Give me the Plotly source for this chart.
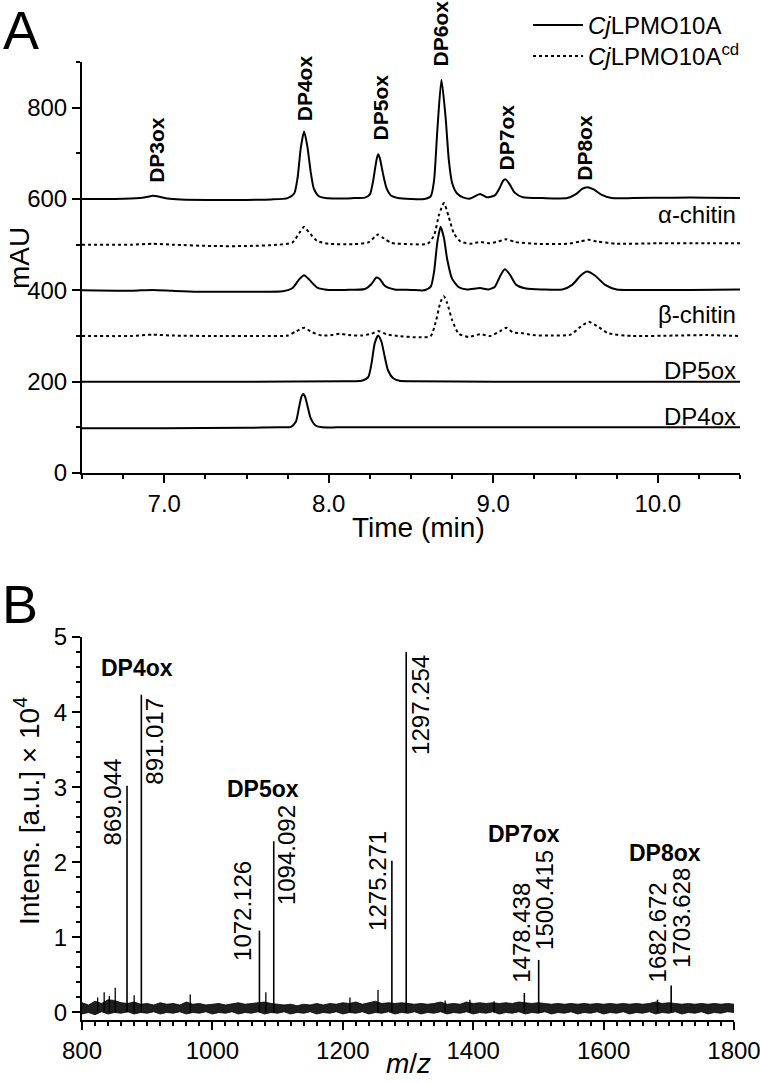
import plotly.graph_objects as go

# ---------------- Panel A: HPAEC chromatograms (mAU vs time) ----------------
t_lpmo_a = [6.50, 6.70, 6.85, 6.90, 6.93, 6.97, 7.02, 7.10, 7.30, 7.50, 7.65, 7.75, 7.79, 7.81, 7.83, 7.85, 7.87, 7.89, 7.91, 7.94,
            7.98, 8.05, 8.15, 8.22, 8.25, 8.27, 8.29, 8.30, 8.31, 8.33, 8.35, 8.38, 8.42, 8.50, 8.58, 8.62, 8.64, 8.66, 8.685, 8.71,
            8.73, 8.75, 8.78, 8.82, 8.86, 8.92, 8.96, 9.01, 9.04, 9.06, 9.075, 9.10, 9.13, 9.18, 9.30, 9.45, 9.50, 9.54, 9.57, 9.61,
            9.66, 9.72, 9.85, 10.1, 10.3, 10.5]
v_lpmo_a = [600, 600, 602, 605, 607, 605, 601, 599, 598, 598, 599, 602, 612, 645, 712, 748, 715, 660, 622, 606,
            602, 601, 602, 603, 610, 640, 685, 698, 690, 655, 625, 607, 602, 600, 600, 606, 640, 750, 861, 780,
            685, 635, 612, 603, 601, 611, 604, 608, 625, 640, 643, 632, 614, 604, 602, 602, 610, 622, 626, 621,
            609, 602, 602, 603, 603, 602]

t_cd_a = [6.50, 6.80, 6.93, 7.05, 7.30, 7.50, 7.70, 7.78, 7.82, 7.85, 7.88, 7.93, 8.00, 8.15, 8.24, 8.28, 8.30, 8.33, 8.38, 8.50,
          8.60, 8.64, 8.67, 8.70, 8.73, 8.76, 8.80, 8.86, 8.92, 8.98, 9.03, 9.08, 9.13, 9.25, 9.45, 9.53, 9.58, 9.63, 9.75, 10.0,
          10.3, 10.5]
v_cd_a = [500, 500, 502, 500, 497, 497, 500, 505, 525, 539, 527, 508, 502, 501, 505, 517, 522, 515, 504, 501,
          502, 520, 565, 591, 560, 525, 507, 502, 506, 503, 507, 512, 506, 502, 502, 507, 511, 507, 502, 503,
          503, 503]

t_lpmo_b = [6.50, 6.80, 6.93, 7.05, 7.20, 7.50, 7.72, 7.78, 7.82, 7.85, 7.88, 7.93, 8.00, 8.10, 8.22, 8.26, 8.29, 8.31, 8.34, 8.40,
            8.50, 8.58, 8.62, 8.64, 8.66, 8.68, 8.70, 8.72, 8.75, 8.79, 8.84, 8.92, 8.97, 9.01, 9.04, 9.07, 9.10, 9.14, 9.20, 9.30,
            9.42, 9.48, 9.53, 9.57, 9.62, 9.68, 9.75, 9.90, 10.2, 10.5]
v_lpmo_b = [400, 399, 401, 399, 397, 397, 398, 405, 424, 433, 424, 406, 401, 401, 403, 414, 428, 425, 410, 402,
            401, 400, 408, 440, 505, 539, 515, 468, 425, 407, 402, 405, 402, 408, 430, 446, 435, 412, 404, 402,
            402, 412, 432, 441, 432, 412, 402, 401, 401, 402]

t_cd_b = [6.50, 6.80, 6.93, 7.05, 7.30, 7.60, 7.75, 7.80, 7.85, 7.90, 7.96, 8.02, 8.07, 8.12, 8.20, 8.26, 8.30, 8.35, 8.42, 8.55,
          8.62, 8.65, 8.68, 8.70, 8.72, 8.75, 8.79, 8.85, 8.92, 8.98, 9.04, 9.08, 9.12, 9.18, 9.24, 9.35, 9.47, 9.53, 9.58, 9.63,
          9.70, 9.85, 10.1, 10.3, 10.5]
v_cd_b = [300, 300, 303, 301, 300, 300, 301, 310, 318, 308, 301, 302, 305, 302, 301, 305, 311, 304, 300, 297,
          300, 330, 375, 387, 372, 335, 305, 298, 304, 300, 310, 318, 308, 306, 302, 301, 303, 320, 331, 322,
          306, 300, 301, 302, 300]

t_std5 = [6.50, 7.50, 8.10, 8.20, 8.24, 8.26, 8.28, 8.30, 8.32, 8.34, 8.36, 8.39, 8.43, 8.50, 9.00, 10.5]
v_std5 = [200, 200, 201, 202, 210, 240, 285, 301, 288, 255, 225, 208, 202, 201, 200, 200]

t_std4 = [6.50, 7.00, 7.50, 7.70, 7.77, 7.80, 7.82, 7.835, 7.845, 7.855, 7.87, 7.89, 7.92, 7.96, 8.05, 8.50, 9.50, 10.5]
v_std4 = [98, 98, 99, 100, 101, 112, 145, 168, 173, 168, 148, 120, 104, 100, 100, 100, 100, 100]

series_names = ["<i>Cj</i>LPMO10A", "<i>Cj</i>LPMO10A<sup>cd</sup>"]

trace_labels = ["α-chitin", "β-chitin", "DP5ox", "DP4ox"]
trace_label_y = [565, 346, 225, 123]

peakA_labels = ["DP3ox", "DP4ox", "DP5ox", "DP6ox", "DP7ox", "DP8ox"]
peakA_t = [6.956, 7.85, 8.315, 8.68, 9.08, 9.55]
peakA_bottom = [631, 766, 723, 885, 659, 635]

# ---------------- Panel B: MALDI-TOF spectrum ----------------
peak_mz = [869.044, 891.017, 1072.126, 1094.092, 1275.271, 1297.254, 1478.438, 1500.415, 1682.672, 1703.628]
peak_int = [3.02, 4.23, 1.09, 2.28, 2.02, 4.80, 0.26, 0.70, 0.17, 0.36]
peak_lab_x = [847, 912, 1047, 1114, 1254, 1318, 1475, 1509, 1683, 1719]
peak_lab_bottom = [2.20, 3.00, 0.66, 1.40, 1.06, 3.40, 0.37, 0.81, 0.37, 0.57]

minor_mz = [824, 834, 842, 851, 880, 966, 1082, 1211, 1254, 1357, 1395, 1432]
minor_int = [0.20, 0.27, 0.22, 0.33, 0.23, 0.24, 0.27, 0.20, 0.30, 0.16, 0.17, 0.15]

noise_mz = list(range(800, 1801, 10))
noise_hi = [0.13, 0.10, 0.15, 0.12, 0.17, 0.16, 0.13, 0.12, 0.14, 0.11,
            0.12, 0.10, 0.13, 0.11, 0.12, 0.10, 0.14, 0.11, 0.12, 0.10,
            0.11, 0.12, 0.10, 0.12, 0.13, 0.11, 0.12, 0.13, 0.14, 0.12,
            0.11, 0.10, 0.11, 0.09, 0.11, 0.10, 0.12, 0.10, 0.12, 0.11,
            0.13, 0.12, 0.14, 0.11, 0.13, 0.15, 0.12, 0.13, 0.12, 0.13,
            0.12, 0.11, 0.12, 0.11, 0.12, 0.14, 0.11, 0.12, 0.11, 0.14,
            0.12, 0.13, 0.12, 0.13, 0.12, 0.13, 0.12, 0.14, 0.13, 0.12,
            0.13, 0.12, 0.11, 0.12, 0.11, 0.12, 0.11, 0.12, 0.11, 0.12,
            0.11, 0.12, 0.11, 0.12, 0.11, 0.12, 0.11, 0.12, 0.14, 0.12,
            0.13, 0.12, 0.11, 0.12, 0.11, 0.12, 0.11, 0.12, 0.11, 0.12, 0.11]
noise_lo = [-0.02, 0.00, -0.03, 0.01, -0.02, 0.00, -0.01, 0.01, -0.02, 0.00,
            -0.01, 0.01, -0.02, 0.00, -0.01, 0.01, -0.02, 0.00, -0.01, 0.01,
            -0.02, 0.00, -0.01, 0.01, -0.02, 0.00, -0.01, 0.01, -0.02, 0.00,
            -0.01, 0.01, -0.02, 0.00, -0.01, 0.01, -0.02, 0.00, -0.01, 0.01,
            -0.02, 0.00, -0.01, 0.01, -0.02, 0.00, -0.01, 0.01, -0.02, 0.00,
            -0.01, 0.01, -0.02, 0.00, -0.01, 0.01, -0.02, 0.00, -0.01, 0.01,
            -0.02, 0.00, -0.01, 0.01, -0.02, 0.00, -0.01, 0.01, -0.02, 0.00,
            -0.01, 0.01, -0.02, 0.00, -0.01, 0.01, -0.02, 0.00, -0.01, 0.01,
            -0.02, 0.00, -0.01, 0.01, -0.02, 0.00, -0.01, 0.01, -0.02, 0.00,
            -0.01, 0.01, -0.02, 0.00, -0.01, 0.01, -0.02, 0.00, -0.01, 0.01, 0.00]

peakB_labels = ["DP4ox", "DP5ox", "DP6ox", "DP7ox", "DP8ox"]
peakB_x = [885, 1078, 1300, 1478, 1694]
peakB_y = [4.59, 2.98, 5.03, 2.38, 2.13]

FONT = "Liberation Sans, Arial, sans-serif"
W, H = 760, 1084

fig = go.Figure()

def chrom(t, v, dash, name=None, show=False, legend="legend"):
    fig.add_trace(go.Scatter(
        x=t, y=v, mode="lines", xaxis="x", yaxis="y",
        line=dict(color="black", width=2, dash=dash, shape="spline", smoothing=0.6),
        name=name if name else "", showlegend=show, legend=legend, hoverinfo="skip"))

chrom(t_lpmo_a, v_lpmo_a, "solid", series_names[0], True, "legend")
chrom(t_cd_a, v_cd_a, "dot", series_names[1], True, "legend2")
chrom(t_lpmo_b, v_lpmo_b, "solid")
chrom(t_cd_b, v_cd_b, "dot")
chrom(t_std5, v_std5, "solid")
chrom(t_std4, v_std4, "solid")

# noise band
fig.add_trace(go.Scatter(x=noise_mz, y=noise_lo, mode="lines", xaxis="x2", yaxis="y2",
                         line=dict(color="black", width=0.8), showlegend=False, hoverinfo="skip"))
fig.add_trace(go.Scatter(x=noise_mz, y=noise_hi, mode="lines", xaxis="x2", yaxis="y2",
                         fill="tonexty", fillcolor="#1e1e1e",
                         line=dict(color="black", width=0.8), showlegend=False, hoverinfo="skip"))

def sticks(mz, inten, width):
    xs, ys = [], []
    for m, h in zip(mz, inten):
        xs += [m, m, None]
        ys += [0, h, None]
    fig.add_trace(go.Scatter(x=xs, y=ys, mode="lines", xaxis="x2", yaxis="y2",
                             line=dict(color="black", width=width), showlegend=False, hoverinfo="skip"))

sticks(minor_mz, minor_int, 1.3)
sticks(peak_mz, peak_int, 1.6)

ann = []
# panel letters
ann.append(dict(text="A", x=21 / W, y=1 - 30 / H, xref="paper", yref="paper", showarrow=False,
                font=dict(family=FONT, size=54, color="black"), xanchor="center", yanchor="middle"))
ann.append(dict(text="B", x=20 / W, y=1 - 604 / H, xref="paper", yref="paper", showarrow=False,
                font=dict(family=FONT, size=54, color="black"), xanchor="center", yanchor="middle"))
# axis titles
ann.append(dict(text="mAU", x=19 / W, y=1 - 258 / H, xref="paper", yref="paper", showarrow=False, textangle=-90,
                font=dict(family=FONT, size=28, color="black"), xanchor="center", yanchor="middle"))
ann.append(dict(text="Time (min)", x=418 / W, y=1 - 527 / H, xref="paper", yref="paper", showarrow=False,
                font=dict(family=FONT, size=28, color="black"), xanchor="center", yanchor="middle"))
ann.append(dict(text="Intens. [a.u.] × 10<sup>4</sup>", x=27 / W, y=1 - 811 / H, xref="paper", yref="paper",
                showarrow=False, textangle=-90,
                font=dict(family=FONT, size=28, color="black"), xanchor="center", yanchor="middle"))
ann.append(dict(text="<i>m</i>/<i>z</i>", x=408 / W, y=1 - 1063 / H, xref="paper", yref="paper", showarrow=False,
                font=dict(family=FONT, size=28, color="black"), xanchor="center", yanchor="middle"))
# trace labels at right
for lab, yv in zip(trace_labels, trace_label_y):
    ann.append(dict(text=lab, x=10.49, y=yv, xref="x", yref="y", showarrow=False,
                    font=dict(family=FONT, size=24, color="black"), xanchor="right", yanchor="middle"))
# peak labels panel A
for lab, tv, yb in zip(peakA_labels, peakA_t, peakA_bottom):
    ann.append(dict(text="<b>%s</b>" % lab, x=tv, y=yb, xref="x", yref="y", showarrow=False, textangle=-90,
                    font=dict(family=FONT, size=21, color="black"), xanchor="center", yanchor="bottom"))
# peak labels panel B
for mz, xl, yb in zip(peak_mz, peak_lab_x, peak_lab_bottom):
    ann.append(dict(text="%.3f" % mz, x=xl, y=yb, xref="x2", yref="y2", showarrow=False, textangle=-90,
                    font=dict(family=FONT, size=24, color="black"), xanchor="center", yanchor="bottom"))
for lab, xv, yv in zip(peakB_labels, peakB_x, peakB_y):
    ann.append(dict(text="<b>%s</b>" % lab, x=xv, y=yv, xref="x2", yref="y2", showarrow=False,
                    font=dict(family=FONT, size=23, color="black"), xanchor="center", yanchor="middle"))

axis_common = dict(showline=True, linewidth=2, linecolor="black", showgrid=False, zeroline=False,
                   automargin=False, ticklabeloverflow="allow",
                   ticks="outside", tickwidth=2, ticklen=8, tickcolor="black",
                   tickfont=dict(family=FONT, size=24, color="black"))

legend_common = dict(xanchor="left", yanchor="top", bgcolor="rgba(0,0,0,0)",
                     font=dict(family=FONT, size=24, color="black"), itemwidth=50)

fig.update_layout(
    width=W, height=H, margin=dict(l=0, r=0, t=0, b=0, autoexpand=False),
    paper_bgcolor="white", plot_bgcolor="white",
    font=dict(family=FONT, color="black"),
    xaxis=dict(domain=[82 / W, 740 / W], anchor="y", range=[6.5, 10.5], tick0=7, dtick=1, tickformat=".1f",
               minor=dict(tick0=6.5, dtick=0.25, ticks="outside", ticklen=4, tickwidth=1.5, tickcolor="black"),
               **axis_common),
    yaxis=dict(domain=[1 - 473 / H, 1 - 62 / H], anchor="x", range=[0, 900], tick0=0, dtick=200,
               minor=dict(tick0=0, dtick=100, ticks="outside", ticklen=4, tickwidth=1.5, tickcolor="black"),
               **axis_common),
    xaxis2=dict(domain=[82 / W, 734 / W], anchor="y2", range=[800, 1800], tick0=800, dtick=200,
                minor=dict(tick0=800, dtick=20, ticks="outside", ticklen=4, tickwidth=1.5, tickcolor="black"),
                **axis_common),
    yaxis2=dict(domain=[1 - 1020 / H, 1 - 637 / H], anchor="x2", range=[-0.1, 5], tick0=0, dtick=1,
                minor=dict(tick0=0, dtick=0.2, ticks="outside", ticklen=4, tickwidth=1.5, tickcolor="black"),
                **axis_common),
    legend=dict(x=528 / W, y=1 - 3 / H, **legend_common),
    legend2=dict(x=528 / W, y=1 - 34 / H, **legend_common),
    annotations=ann,
)

fig.write_html("out.html", config={"displayModeBar": False},
               post_script="document.body.style.margin='0px';document.body.style.padding='0px';"
                           "document.body.style.overflow='hidden';")
